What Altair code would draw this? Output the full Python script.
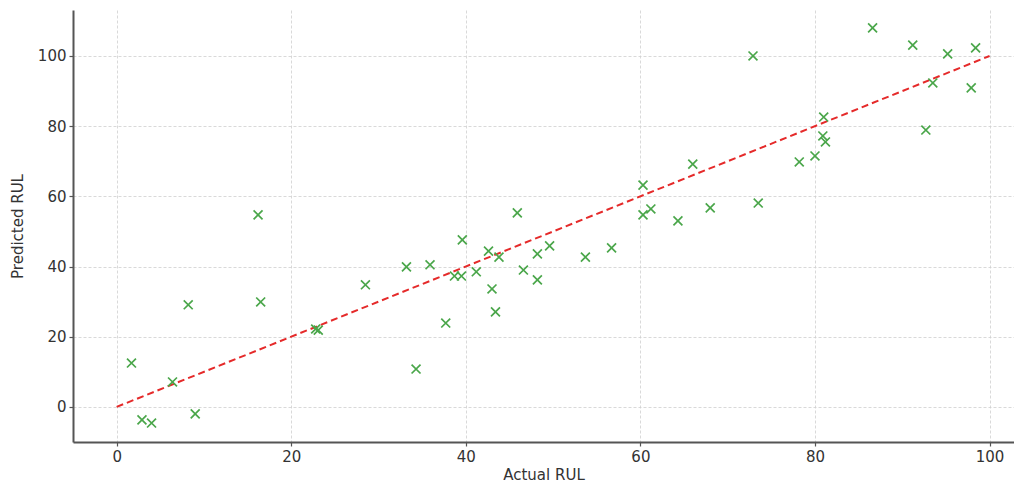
import altair as alt
import pandas as pd

actual = [1.7, 2.9, 4.0, 6.4, 8.2, 9.0, 16.2, 16.5, 22.8, 23.1,
          28.5, 33.2, 34.3, 35.9, 37.7, 38.7, 39.5, 39.6, 41.2, 42.6,
          43.0, 43.4, 43.8, 45.9, 46.6, 48.2, 48.2, 49.6, 53.7, 56.7,
          60.3, 60.3, 61.2, 64.3, 66.0, 68.0, 72.9, 73.5, 78.2, 80.0,
          81.0, 80.9, 81.2, 86.6, 91.2, 92.7, 93.5, 95.2, 97.9, 98.4]
predicted = [12.5, -3.7, -4.6, 7.1, 29.1, -2.0, 54.7, 29.9, 22.2, 21.9,
             34.8, 39.9, 10.8, 40.5, 23.9, 37.3, 37.3, 47.6, 38.5, 44.4,
             33.6, 27.1, 42.7, 55.3, 39.0, 43.6, 36.2, 45.9, 42.7, 45.3,
             63.2, 54.7, 56.4, 53.0, 69.2, 56.7, 100.0, 58.1, 69.8, 71.5,
             82.6, 77.2, 75.5, 108.0, 103.1, 78.9, 92.3, 100.6, 90.9, 102.3]
line_x = [0, 100]
line_y = [0, 100]
x_ticks = [0, 20, 40, 60, 80, 100]
y_ticks = [0, 20, 40, 60, 80, 100]

pts = pd.DataFrame({"actual": actual, "predicted": predicted})
ref = pd.DataFrame({"actual": line_x, "predicted": line_y})

xs = alt.Scale(domain=[-5, 102.8], nice=False, zero=False)
ys = alt.Scale(domain=[-10, 113.1], nice=False, zero=False)

xax = alt.Axis(values=x_ticks, title="Actual RUL", grid=True)
yax = alt.Axis(values=y_ticks, title="Predicted RUL", grid=True)

scatter = alt.Chart(pts).mark_point(
    shape="M-1,-1L1,1M-1,1L1,-1", filled=False, size=80,
    strokeWidth=1.7, color="#4aa64a", opacity=1
).encode(
    x=alt.X("actual:Q", scale=xs, axis=xax),
    y=alt.Y("predicted:Q", scale=ys, axis=yax),
)

line = alt.Chart(ref).mark_line(
    color="#e52a2a", strokeWidth=2, strokeDash=[7, 4]
).encode(
    x=alt.X("actual:Q", scale=xs),
    y=alt.Y("predicted:Q", scale=ys),
)

chart = alt.layer(line, scatter).properties(
    width=941, height=432,
    autosize=alt.AutoSizeParams(type="none"),
    padding={"left": 65, "top": 2, "right": 0, "bottom": 40},
).configure_view(
    stroke=None
).configure_axis(
    domainColor="#555555", domainWidth=2,
    tickColor="#555555", tickSize=4, tickWidth=1.2,
    gridColor="#cfcfcf", gridDash=[3, 2], gridWidth=0.8,
    labelFont="DejaVu Sans", labelFontSize=15, labelColor="#333333",
    titleFont="DejaVu Sans", titleFontSize=15, titleColor="#333333",
    titleFontWeight="normal", labelPadding=3,
).configure_axisX(
    titlePadding=3
).configure_axisY(
    titlePadding=12
)

chart.save("out.html", embed_options={"renderer": "svg", "actions": False})
